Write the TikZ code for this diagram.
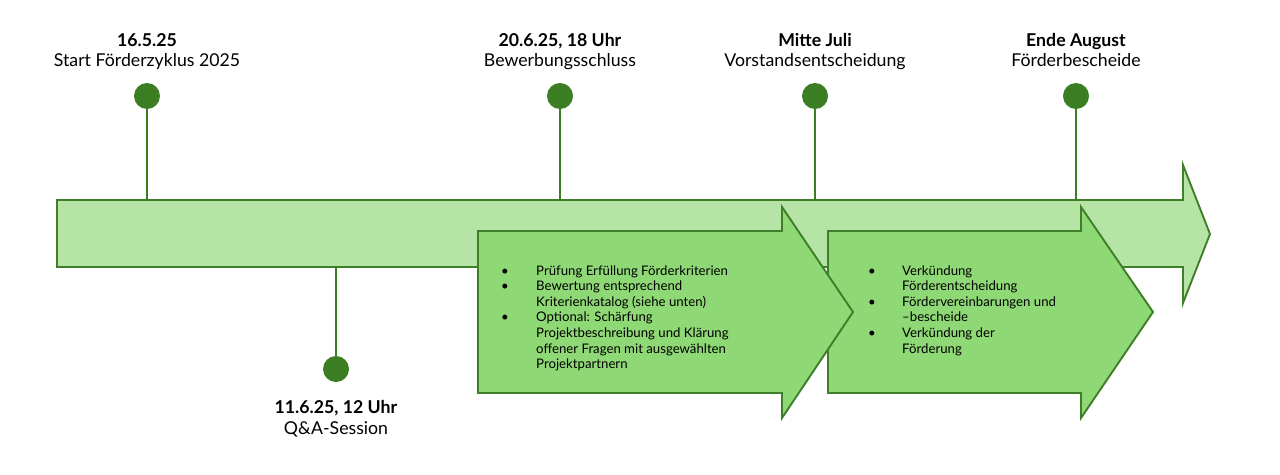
\documentclass[tikz,border=0pt]{standalone}
\usepackage{fontspec}
\setmainfont{Lato}
\usetikzlibrary{positioning}
\definecolor{tlLight}{HTML}{B5E4A5}
\definecolor{tlMid}{HTML}{8FD876}
\definecolor{tlDark}{HTML}{3F7F2A}
\definecolor{tlDot}{HTML}{3A7D22}

\begin{document}
\begin{tikzpicture}[x=1pt, y=-1pt,
  dot/.style={circle, fill=tlDot, minimum size=26pt, inner sep=0pt},
  stem/.style={draw=tlDot, line width=1.6pt},
  when/.style={font=\fontsize{17.7}{19}\selectfont\bfseries, inner sep=0pt, anchor=base},
  what/.style={font=\fontsize{17.7}{19}\selectfont, inner sep=0pt, anchor=base},
  steptext/.style={font=\fontsize{13.2}{15.6}\selectfont, inner sep=0pt, anchor=north west},
  bar/.style={draw=tlDark, line width=1.9pt, line join=miter}]
\useasboundingbox (0,0) rectangle (1280,474);
% time axis
\draw[bar, fill=tlLight] (57,200) -- (1183,200) -- (1183,165) -- (1210,234) -- (1183,303) -- (1183,267) -- (57,267) -- cycle;
% phase arrows (second one lies under the first)
\draw[bar, fill=tlMid] (828,231) -- (1081,231) -- (1081,207) -- (1153,312) -- (1081,418) -- (1081,393) -- (828,393) -- cycle;
\draw[bar, fill=tlMid] (478,231) -- (782,231) -- (782,207) -- (853,312) -- (782,418) -- (782,393) -- (478,393) -- cycle;

% milestones above the axis
\coordinate (a1) at (147,200);
\coordinate (a2) at (560,200);
\coordinate (a3) at (815,200);
\coordinate (a4) at (1076,200);
\coordinate (a5) at (336,267);
\node[dot] (d1) at (147,96) {};
\node[dot] (d2) at (560,96) {};
\node[dot] (d3) at (815,96) {};
\node[dot] (d4) at (1076,96) {};
\node[dot] (d5) at (336,369) {};
\draw[stem] (d1) -- (a1); \draw[stem] (d2) -- (a2); \draw[stem] (d3) -- (a3);
\draw[stem] (d4) -- (a4); \draw[stem] (a5) -- (d5);

\node[when] (w1) at (147,46) {16.5.25};
\node[what] (t1) at (147,66) {Start Förderzyklus 2025};
\node[when] (w2) at (560,46) {20.6.25, 18 Uhr};
\node[what] (t2) at (560,66) {Bewerbungsschluss};
\node[when] (w3) at (815,46) {Mitte Juli};
\node[what] (t3) at (815,66) {Vorstandsentscheidung};
\node[when] (w4) at (1076,46) {Ende August};
\node[what] (t4) at (1076,66) {Förderbescheide};
\node[when] (w5) at (336,413) {11.6.25, 12 Uhr};
\node[what] (t5) at (336,434) {Q\&A-Session};

% phase contents
\node[steptext] (p1) at (501,264) {\begin{tabular}{@{}p{35pt}@{}l@{}}
\textbullet & Prüfung Erfüllung Förderkriterien\\
\textbullet & Bewertung entsprechend\\
 & Kriterienkatalog (siehe unten)\\
\textbullet & Optional: Schärfung\\
 & Projektbeschreibung und Klärung\\
 & offener Fragen mit ausgewählten\\
 & Projektpartnern
\end{tabular}};
\node[steptext] (p2) at (868,264) {\begin{tabular}{@{}p{34pt}@{}l@{}}
\textbullet & Verkündung\\
 & Förderentscheidung\\
\textbullet & Fördervereinbarungen und\\
 & --bescheide\\
\textbullet & Verkündung der\\
 & Förderung
\end{tabular}};
\end{tikzpicture}
\end{document}
